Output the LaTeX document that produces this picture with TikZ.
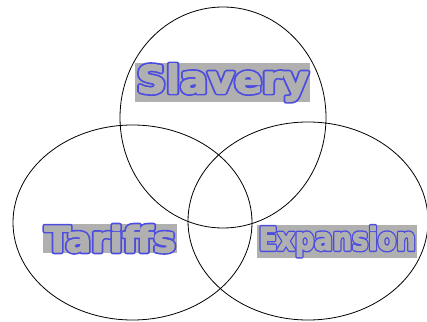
\documentclass[tikz,border=0pt]{standalone}
\usepackage{fontspec}
\newfontfamily\wafont{DejaVu Sans}
\definecolor{wagray}{RGB}{176,176,176}
\definecolor{wablue}{RGB}{70,70,225}
\newcommand{\wablueliteral}{\special{pdf:literal direct 2 Tr 1.3 w 1 j 0.3 0.3 0.88 RG 0.3 0.3 0.88 rg}}
\newcommand{\wagrayliteral}{\special{pdf:literal direct 2 Tr 0.4 w 1 j 0.69 0.69 0.69 RG 0.69 0.69 0.69 rg}}
\newcommand{\waoff}{\special{pdf:literal direct 0 Tr 0 j}}
\newcommand{\wordart}[3]{\resizebox{#1pt}{#2pt}{%
  \rlap{\wablueliteral{\wafont\bfseries #3}\waoff}%
  \wagrayliteral{\wafont\bfseries #3}\waoff}}
\begin{document}
\begin{tikzpicture}[x=1pt,y=1pt,
  circ/.style={draw=black,line width=0.8pt},
  label/.style={fill=wagray,text=wagray,inner xsep=1.5pt,inner ysep=0pt,anchor=base west,font=\wafont\bfseries}]
\useasboundingbox (0,0) rectangle (427,321);
\draw[circ] (223,203.5) ellipse [x radius=103,y radius=110.5];
\draw[circ] (132.5,98.5) ellipse [x radius=119.5,y radius=97.5];
\draw[circ] (308,100) ellipse [x radius=120,y radius=99];
\node[label] (slavery) at (135,228) {\wordart{172}{29}{Slavery}\rule[-9pt]{0pt}{39pt}};
\node[label] (tariffs) at (43,69) {\wordart{131}{27}{Tariffs}\rule[-0.5pt]{0pt}{28.5pt}};
\node[label] (expansion) at (257,71) {\wordart{157}{24}{Expansion}\rule[-8pt]{0pt}{33pt}};
\end{tikzpicture}
\end{document}
